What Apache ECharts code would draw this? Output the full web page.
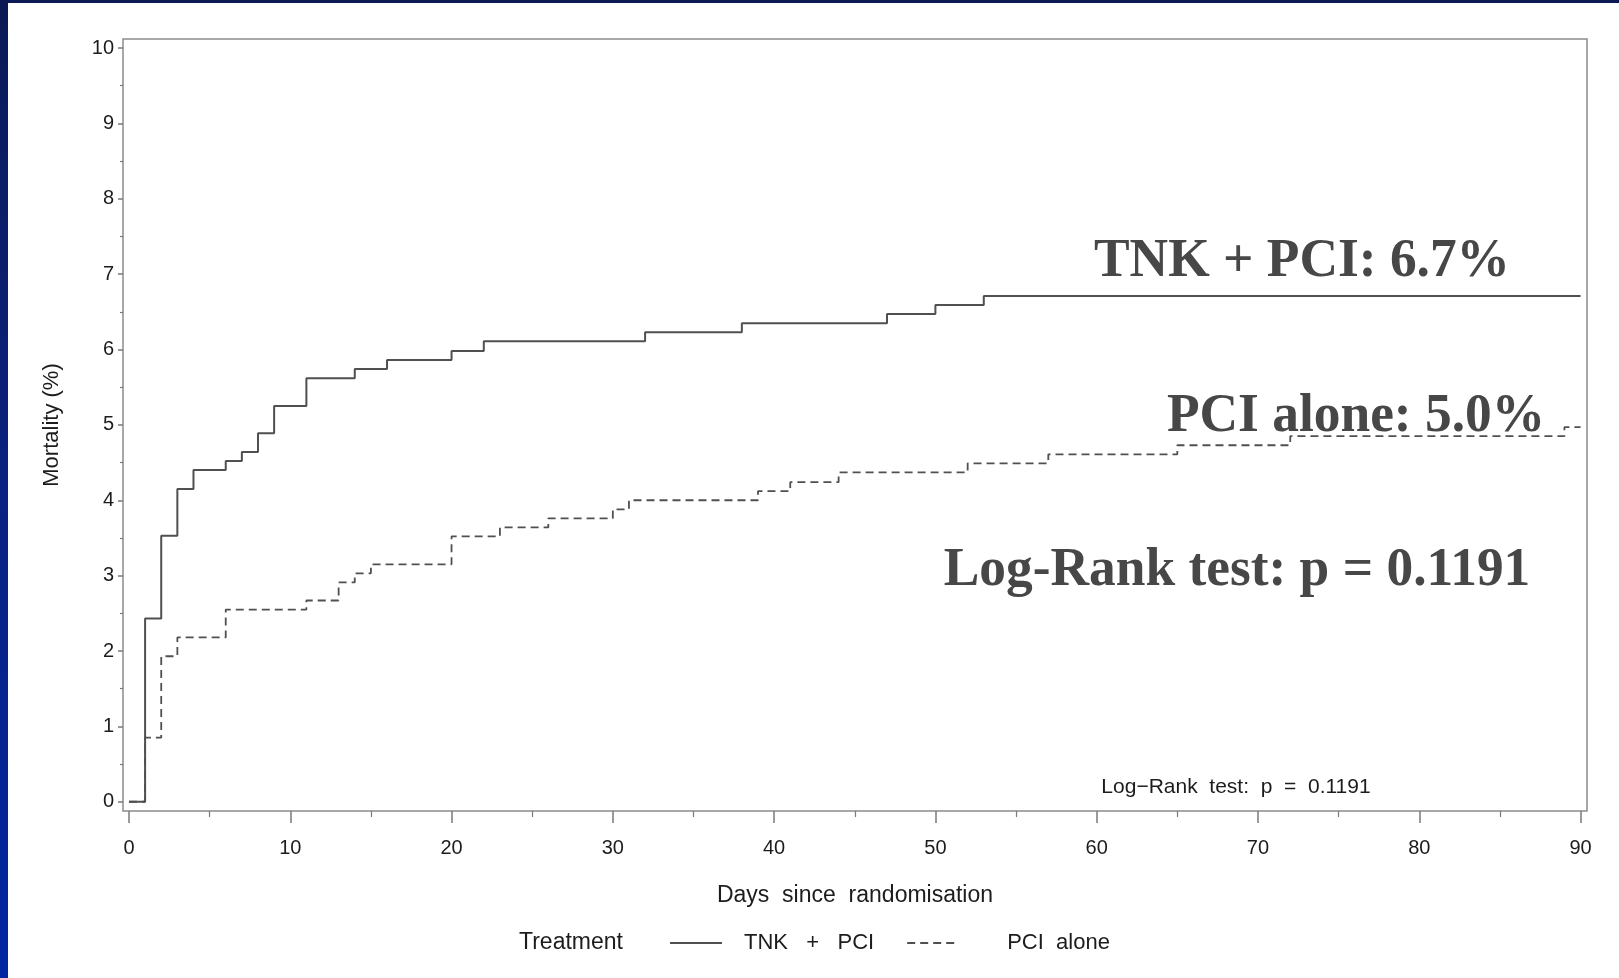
<!DOCTYPE html>
<html>
<head>
<meta charset="utf-8">
<script src="https://cdn.jsdelivr.net/npm/echarts@6/dist/echarts.min.js"></script>
<style>
  html, body { margin: 0; padding: 0; background: #ffffff; }
  #chart { width: 1619px; height: 978px; }
</style>
</head>
<body>
<div id="chart"></div>
<script>
// ---- Data (Kaplan-Meier cumulative mortality, %) ----
const tnkDays  = [0, 1, 2, 3, 4, 6, 7, 8, 9, 11, 14, 16, 20, 22, 32, 38, 47, 50, 53, 90];
const tnkMort  = [0, 2.43, 3.53, 4.15, 4.40, 4.52, 4.64, 4.89, 5.25, 5.62, 5.74, 5.86, 5.98, 6.11, 6.23, 6.35, 6.47, 6.59, 6.71, 6.71];

const pciDays  = [0, 1, 2, 3, 6, 11, 13, 14, 15, 20, 23, 26, 30, 31, 39, 41, 44, 52, 57, 65, 72, 89, 90];
const pciMort  = [0, 0.85, 1.93, 2.18, 2.55, 2.67, 2.91, 3.03, 3.15, 3.52, 3.64, 3.76, 3.88, 4.00, 4.12, 4.24, 4.37, 4.49, 4.61, 4.73, 4.85, 4.97, 4.97];

const xMajorTicks = [0, 10, 20, 30, 40, 50, 60, 70, 80, 90];
const xMinorTicks = [5, 15, 25, 35, 45, 55, 65, 75, 85];
const yMajorTicks = [0, 1, 2, 3, 4, 5, 6, 7, 8, 9, 10];
const yMinorTicks = [0.5, 1.5, 2.5, 3.5, 4.5, 5.5, 6.5, 7.5, 8.5, 9.5];

const seriesNames = ['TNK   +   PCI', 'PCI  alone'];
const annotations = ['TNK + PCI: 6.7%', 'PCI alone: 5.0%', 'Log-Rank test: p = 0.1191'];
const smallNote = 'Log−Rank  test:  p  =  0.1191';

// ---- Build chart ----
const chart = echarts.init(document.getElementById('chart'), null, { renderer: 'canvas' });

const sansFont = 'Liberation Sans, Arial, Helvetica, sans-serif';
const serifFont = 'Liberation Serif, Times New Roman, serif';
const textColor = '#1c1c1c';
const axisColor = '#7a7a7a';
const lineColor = '#505050';

function pairs(xs, ys) { return xs.map((x, i) => [x, ys[i]]); }

const xRange = { min: -0.37, max: 90.4 };
const yRange = { min: -0.123, max: 10.12 };

const option = {
  backgroundColor: '#ffffff',
  animation: false,
  grid: {
    left: 123, right: 32, top: 39, bottom: 167,
    show: true, borderColor: '#8c8c8c', borderWidth: 1.5, backgroundColor: 'transparent'
  },
  xAxis: [
    {
      type: 'value', min: xRange.min, max: xRange.max, position: 'bottom',
      axisLine: { show: false, onZero: false },
      splitLine: { show: false },
      axisTick: { show: true, customValues: xMajorTicks, length: 12, lineStyle: { color: axisColor, width: 1.5 } },
      axisLabel: { show: true, customValues: xMajorTicks, margin: 27, fontSize: 20, color: textColor, fontFamily: sansFont },
      name: 'Days  since  randomisation', nameLocation: 'middle', nameGap: 73,
      nameTextStyle: { fontSize: 23, color: textColor, fontFamily: sansFont }
    },
    {
      type: 'value', min: xRange.min, max: xRange.max, position: 'bottom',
      axisLine: { show: false, onZero: false },
      splitLine: { show: false },
      axisTick: { show: true, customValues: xMinorTicks, length: 6, lineStyle: { color: axisColor, width: 1.2 } },
      axisLabel: { show: false }
    }
  ],
  yAxis: [
    {
      type: 'value', min: yRange.min, max: yRange.max, position: 'left',
      axisLine: { show: false, onZero: false },
      splitLine: { show: false },
      axisTick: { show: true, customValues: yMajorTicks, length: 5, lineStyle: { color: axisColor, width: 1.5 } },
      axisLabel: { show: true, customValues: yMajorTicks, margin: 9, fontSize: 20, color: textColor, fontFamily: sansFont },
      name: 'Mortality (%)', nameLocation: 'middle', nameGap: 60,
      nameTextStyle: { fontSize: 22, color: textColor, fontFamily: sansFont }
    },
    {
      type: 'value', min: yRange.min, max: yRange.max, position: 'left',
      axisLine: { show: false, onZero: false },
      splitLine: { show: false },
      axisTick: { show: true, customValues: yMinorTicks, length: 3, lineStyle: { color: axisColor, width: 1.2 } },
      axisLabel: { show: false }
    }
  ],
  legend: {
    left: 669, top: 932, padding: 0,
    itemWidth: 52, itemHeight: 14, itemGap: 32,
    itemStyle: { opacity: 0 },
    textStyle: { fontSize: 22, color: textColor, fontFamily: sansFont },
    data: [
      { name: seriesNames[0], textStyle: { padding: [0, 0, 0, 17] } },
      { name: seriesNames[1], textStyle: { padding: [0, 0, 0, 43] } }
    ]
  },
  series: [
    {
      name: seriesNames[0], type: 'line', step: 'end', symbol: 'none',
      xAxisIndex: 0, yAxisIndex: 0,
      lineStyle: { color: lineColor, width: 2, type: 'solid' },
      itemStyle: { color: lineColor },
      data: pairs(tnkDays, tnkMort), z: 3
    },
    {
      name: seriesNames[1], type: 'line', step: 'end', symbol: 'none',
      xAxisIndex: 0, yAxisIndex: 0,
      lineStyle: { color: lineColor, width: 1.8, type: [8, 5] },
      itemStyle: { color: lineColor },
      data: pairs(pciDays, pciMort), z: 2
    }
  ],
  graphic: [
    // slide frame strips
    {
      type: 'rect', left: 0, top: 0, z: 100,
      shape: { width: 8, height: 978 },
      style: { fill: new echarts.graphic.LinearGradient(0, 0, 0, 1, [
        { offset: 0, color: '#0b1a55' }, { offset: 0.5, color: '#0a2280' }, { offset: 1, color: '#0026a2' }
      ]) }
    },
    {
      type: 'rect', left: 0, top: 0, z: 100,
      shape: { width: 1619, height: 3 },
      style: { fill: '#0b1a55' }
    },
    // legend title
    {
      type: 'text', x: 571, y: 943, z: 50,
      style: { text: 'Treatment', fontSize: 23, fill: textColor, fontFamily: sansFont, textAlign: 'center', textVerticalAlign: 'middle' }
    },
    // small in-plot note
    {
      type: 'text', x: 1236, y: 787, z: 50,
      style: { text: smallNote, fontSize: 21, fill: textColor, fontFamily: sansFont, textAlign: 'center', textVerticalAlign: 'middle' }
    },
    // large annotations
    {
      type: 'text', x: 1302, y: 262, scaleY: 1.03, z: 60,
      style: { text: annotations[0], fontSize: 53.4, fontWeight: 'bold', fill: '#474747', fontFamily: serifFont, textAlign: 'center', textVerticalAlign: 'middle' }
    },
    {
      type: 'text', x: 1356, y: 417, scaleY: 1.03, z: 60,
      style: { text: annotations[1], fontSize: 53.4, fontWeight: 'bold', fill: '#474747', fontFamily: serifFont, textAlign: 'center', textVerticalAlign: 'middle' }
    },
    {
      type: 'text', x: 1237, y: 571, scaleY: 1.03, z: 60,
      style: { text: annotations[2], fontSize: 53.4, fontWeight: 'bold', fill: '#474747', fontFamily: serifFont, textAlign: 'center', textVerticalAlign: 'middle' }
    }
  ]
};

chart.setOption(option);
</script>
</body>
</html>
